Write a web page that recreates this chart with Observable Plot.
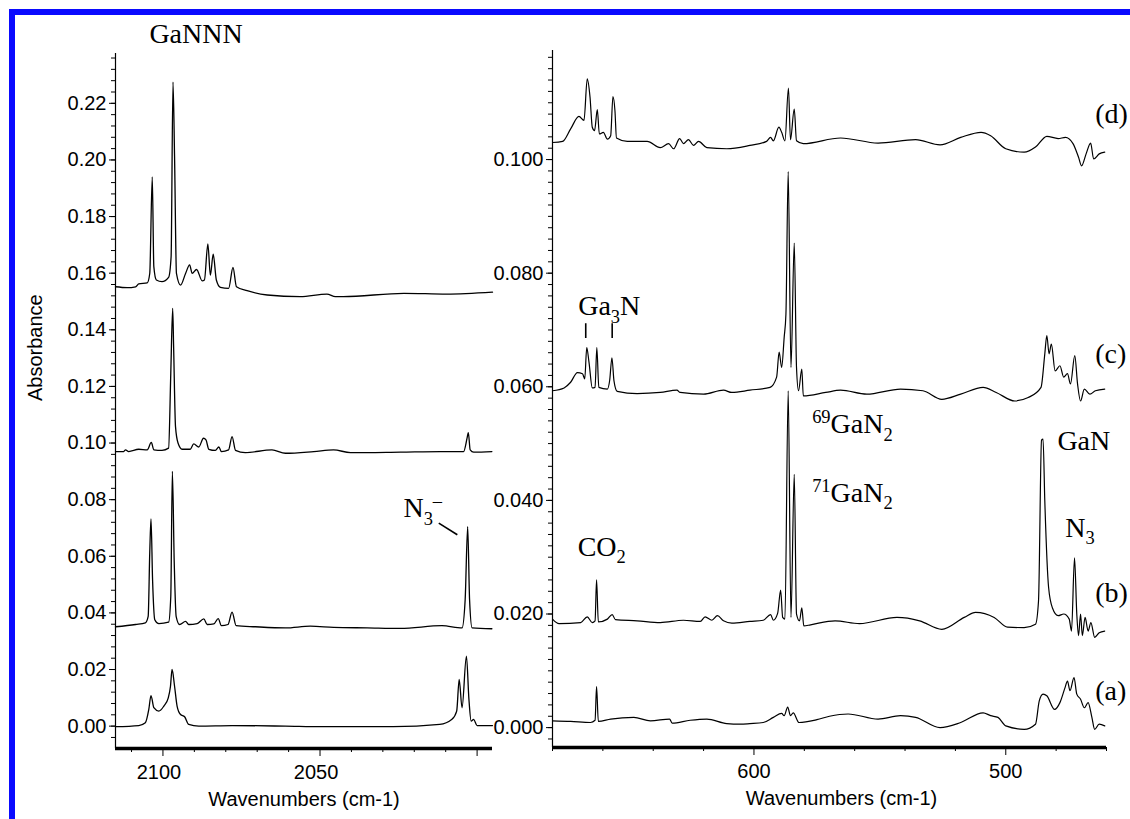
<!DOCTYPE html>
<html><head><meta charset="utf-8">
<script src="https://cdn.jsdelivr.net/npm/d3@7"></script>
<script src="https://cdn.jsdelivr.net/npm/@observablehq/plot@0.6"></script>
<style>
body{margin:0;background:#fff;}
#wrap{position:relative;width:1130px;height:819px;background:#fff;overflow:hidden;}
#wrap svg{position:absolute;left:0;top:0;}
.bb{position:absolute;background:#0a0aff;}
</style></head>
<body><div id="wrap"><div class="bb" style="left:9px;top:9px;width:1121px;height:6px"></div><div class="bb" style="left:9px;top:9px;width:6px;height:810px"></div></div>
<script>
// ---------- DATA: left panel (GaNNN region), [wavenumber, absorbance] ----------
const gannnA = [[2115.1,-0.0002],[2107.7,0.0002],[2105.6,0.0012],[2104.5,0.0059],[2103.8,0.0108],[2102.9,0.0065],[2101.3,0.0053],[2099.7,0.0071],[2098.3,0.0100],[2097.6,0.0141],[2097.1,0.0200],[2096.3,0.0141],[2095.5,0.0071],[2094.4,0.0041],[2093.1,0.0033],[2091.8,0.0006],[2088.6,0.0000],[2078.0,0.0002],[2061.0,0.0000],[2049.4,-0.0002],[2026.7,-0.0002],[2011.9,0.0006],[2008.0,0.0024],[2006.5,0.0053],[2005.7,0.0165],[2004.8,0.0065],[2003.4,0.0247],[2002.6,0.0094],[2001.9,0.0018],[2001.1,0.0024],[2000.0,0.0002],[1995.1,0.0002]];
const gannnB = [[2115.1,0.0351],[2108.7,0.0359],[2105.6,0.0365],[2104.7,0.0388],[2104.2,0.0612],[2103.8,0.0732],[2103.3,0.0517],[2102.6,0.0376],[2101.3,0.0362],[2098.2,0.0367],[2097.5,0.0459],[2097.0,0.0900],[2096.4,0.0576],[2095.8,0.0388],[2094.7,0.0359],[2092.8,0.0370],[2091.8,0.0359],[2089.1,0.0362],[2087.0,0.0379],[2085.9,0.0359],[2083.8,0.0361],[2082.4,0.0380],[2081.4,0.0355],[2079.3,0.0359],[2078.0,0.0403],[2076.7,0.0355],[2070.6,0.0351],[2061.0,0.0347],[2053.1,0.0353],[2045.7,0.0349],[2035.0,0.0347],[2024.4,0.0345],[2011.2,0.0355],[2004.8,0.0347],[2003.8,0.0447],[2003.0,0.0705],[2002.4,0.0447],[2001.6,0.0347],[1995.3,0.0344]];
const gannnC = [[2115.1,0.0970],[2112.5,0.0970],[2111.9,0.0976],[2110.9,0.0970],[2107.7,0.0978],[2105.0,0.0976],[2103.7,0.1002],[2102.9,0.0976],[2100.3,0.0974],[2098.2,0.0982],[2097.5,0.1247],[2096.9,0.1476],[2096.6,0.1340],[2096.0,0.1058],[2095.2,0.1000],[2093.9,0.0978],[2091.3,0.0978],[2090.2,0.0997],[2088.6,0.0986],[2087.1,0.1017],[2086.3,0.1011],[2085.4,0.0978],[2083.3,0.0974],[2082.2,0.0986],[2081.4,0.0970],[2079.1,0.0976],[2078.0,0.1023],[2076.9,0.0974],[2073.8,0.0966],[2065.3,0.0976],[2061.0,0.0964],[2052.0,0.0970],[2045.7,0.0976],[2040.3,0.0966],[2024.4,0.0968],[2011.7,0.0970],[2004.3,0.0970],[2003.2,0.1017],[2002.8,0.1037],[2002.2,0.0976],[2001.1,0.0968],[1995.3,0.0970]];
const gannnD = [[2115.1,0.1552],[2111.4,0.1549],[2108.7,0.1552],[2107.7,0.1562],[2105.0,0.1566],[2104.2,0.1599],[2103.4,0.1940],[2102.9,0.1623],[2102.1,0.1576],[2100.3,0.1570],[2098.2,0.1585],[2097.4,0.1658],[2096.8,0.2275],[2096.3,0.2011],[2095.7,0.1599],[2094.4,0.1558],[2092.8,0.1599],[2091.5,0.1629],[2090.7,0.1599],[2089.3,0.1613],[2087.5,0.1573],[2086.8,0.1576],[2085.7,0.1703],[2084.9,0.1593],[2084.0,0.1667],[2083.0,0.1576],[2081.7,0.1550],[2079.1,0.1546],[2077.7,0.1620],[2076.6,0.1552],[2073.2,0.1538],[2066.8,0.1523],[2056.3,0.1517],[2047.8,0.1526],[2045.1,0.1517],[2042.6,0.1517],[2023.3,0.1529],[2009.7,0.1526],[1995.1,0.1533]];

// ---------- DATA: right panel (700-460 cm-1 region) ----------
const farA = [[680,0.0012],[672.8,0.0011],[664.9,0.0009],[663.1,0.0013],[662.5,0.0072],[661.8,0.0011],[656.9,0.0015],[647.7,0.0018],[641.1,0.0012],[633.5,0.0015],[632.5,0.0008],[625.3,0.0013],[618.7,0.0015],[610.8,0.0007],[605.5,0.0006],[601.6,0.0007],[596.3,0.0009],[592.3,0.0018],[589.0,0.0025],[588.0,0.0021],[586.6,0.0036],[585.5,0.0021],[584.4,0.0026],[582.1,0.0009],[575.0,0.0014],[570.0,0.0020],[562.6,0.0024],[550.7,0.0015],[541.8,0.0021],[535.8,0.0018],[526.1,0.0000],[517.9,0.0009],[509.0,0.0026],[506.0,0.0021],[503.1,0.0018],[500.0,0.0003],[492.7,-0.0003],[488.2,0.0006],[486.7,0.0047],[485.2,0.0059],[483.7,0.0056],[480.6,0.0032],[478.5,0.0044],[476.5,0.0070],[475.5,0.0082],[474.5,0.0065],[472.9,0.0088],[471.8,0.0059],[470.3,0.0050],[468.8,0.0035],[467.3,0.0044],[465.8,0.0018],[464.7,-0.0003],[462.9,0.0006],[460.7,0.0003]];
const farB = [[680,0.0191],[677.4,0.0183],[668.8,0.0185],[666.2,0.0195],[664.2,0.0185],[663.1,0.0188],[662.5,0.0260],[661.8,0.0186],[658.2,0.0191],[656.3,0.0199],[655.0,0.0190],[646.4,0.0188],[637.2,0.0185],[628.0,0.0189],[621.3,0.0187],[619.4,0.0195],[616.7,0.0189],[614.5,0.0197],[612.1,0.0188],[608.8,0.0184],[601.6,0.0187],[596.3,0.0189],[593.4,0.0199],[592.3,0.0189],[590.6,0.0201],[589.4,0.0242],[588.6,0.0194],[587.7,0.0191],[586.4,0.0593],[585.3,0.0194],[584.0,0.0446],[583.1,0.0200],[581.9,0.0188],[581.0,0.0211],[580.2,0.0179],[577.5,0.0181],[567.8,0.0188],[558.1,0.0183],[543.2,0.0194],[534.2,0.0188],[525.4,0.0173],[516.5,0.0194],[512.0,0.0203],[504.6,0.0194],[499.3,0.0177],[492.7,0.0176],[488.2,0.0182],[487.0,0.0223],[485.8,0.0506],[485.2,0.0508],[484.5,0.0399],[483.0,0.0247],[481.5,0.0211],[479.2,0.0197],[477.0,0.0200],[474.8,0.0191],[473.9,0.0170],[472.7,0.0299],[471.8,0.0200],[471.1,0.0162],[470.3,0.0200],[469.6,0.0162],[468.5,0.0194],[467.3,0.0170],[466.2,0.0185],[464.7,0.0159],[462.9,0.0167],[460.7,0.0170]];
const farC = [[680,0.0593],[675.4,0.0598],[672.8,0.0608],[670.1,0.0625],[668.1,0.0623],[667.2,0.0614],[666.4,0.0669],[665.5,0.0643],[664.2,0.0598],[663.1,0.0599],[662.4,0.0669],[661.6,0.0599],[658.2,0.0596],[657.3,0.0611],[656.4,0.0651],[655.6,0.0611],[654.3,0.0592],[646.4,0.0588],[637.2,0.0590],[630.6,0.0594],[629.3,0.0590],[620.0,0.0587],[612.1,0.0594],[608.8,0.0590],[601.6,0.0594],[593.6,0.0599],[591.0,0.0617],[590.0,0.0661],[589.0,0.0634],[588.0,0.0687],[587.3,0.0728],[586.4,0.0979],[585.3,0.0634],[584.0,0.0853],[583.1,0.0634],[582.3,0.0593],[581.0,0.0631],[580.4,0.0584],[571.5,0.0590],[565.6,0.0594],[555.2,0.0587],[541.8,0.0596],[532.9,0.0593],[525.4,0.0578],[517.9,0.0587],[509.0,0.0599],[503.8,0.0590],[496.4,0.0575],[491.1,0.0581],[486.0,0.0599],[484.5,0.0658],[483.7,0.0690],[482.8,0.0658],[481.9,0.0675],[480.4,0.0628],[478.5,0.0637],[477.0,0.0617],[475.5,0.0623],[474.3,0.0605],[472.6,0.0655],[471.5,0.0605],[470.3,0.0575],[468.8,0.0596],[466.6,0.0587],[464.4,0.0593],[460.7,0.0596]];
const farD = [[680,0.1030],[676.0,0.1032],[672.8,0.1054],[669.5,0.1076],[667.5,0.1069],[666.2,0.1142],[665.1,0.1110],[664.2,0.1057],[663.3,0.1051],[662.2,0.1088],[661.4,0.1045],[659.8,0.1048],[658.2,0.1036],[656.9,0.1042],[656.0,0.1111],[655.2,0.1086],[654.6,0.1038],[650.3,0.1032],[642.4,0.1032],[637.2,0.1021],[633.9,0.1028],[631.9,0.1019],[629.5,0.1037],[628.0,0.1028],[626.0,0.1035],[624.0,0.1025],[622.0,0.1032],[618.7,0.1021],[610.8,0.1019],[601.6,0.1025],[595.0,0.1032],[593.4,0.1039],[592.3,0.1033],[590.1,0.1057],[589.0,0.1048],[587.7,0.1033],[586.3,0.1126],[585.5,0.1035],[584.0,0.1089],[583.1,0.1033],[580.4,0.1028],[565.6,0.1038],[550.7,0.1029],[535.8,0.1035],[526.1,0.1026],[517.9,0.1039],[509.8,0.1048],[506.0,0.1042],[500.0,0.1019],[492.7,0.1013],[488.2,0.1022],[483.7,0.1041],[479.2,0.1037],[476.3,0.1039],[473.3,0.1028],[471.1,0.1004],[469.9,0.0989],[468.1,0.1010],[466.3,0.1029],[465.1,0.1001],[462.9,0.1010],[460.7,0.1013]];

// ---------- ticks ----------
const leftYTicks = [0, 0.02, 0.04, 0.06, 0.08, 0.10, 0.12, 0.14, 0.16, 0.18, 0.20, 0.22];
const leftXTicks = [2100, 2050, 2000];
const leftXTickLabels = ["2100", "2050", ""];
const rightYTicks = [0, 0.02, 0.04, 0.06, 0.08, 0.10];
const rightXTicks = [600, 500];
const rightXTickLabels = ["600", "500"];
const leftYMinor = d3.range(-0.004, 0.2365, 0.004);
const rightYMinor = d3.range(-0.002, 0.1185, 0.002);
const leftXMinor = [2110, 2090, 2080, 2070, 2060, 2040, 2030, 2020, 2010];
const rightXMinor = [680, 660, 640, 620, 580, 560, 540, 520, 480, 460];

// ---------- annotations (text, anchor in data coords) ----------
const leftNotes = [
  {parts: ["GaNNN"], wn: 2089.3, abs: 0.2412, anchor: "middle", size: 28},
  {parts: ["N", ["3","sub"], ["\u2013","sup"]], wn: 2023.3, abs: 0.0736, anchor: "start", size: 28}
];
const leftLinks = [[2012.2, 0.0717, 2006.3, 0.0676]];
const rightNotes = [
  {parts: ["(d)"], wn: 464.3, abs: 0.1064},
  {parts: ["(c)"], wn: 464.3, abs: 0.0641},
  {parts: ["(b)"], wn: 464.3, abs: 0.0221},
  {parts: ["(a)"], wn: 464.3, abs: 0.0047},
  {parts: ["Ga", ["3","sub"], "N"], wn: 669.6, abs: 0.0725},
  {parts: [["69","sup"], "GaN", ["2","sub"]], wn: 576.7, abs: 0.0517},
  {parts: [["71","sup"], "GaN", ["2","sub"]], wn: 576.7, abs: 0.0396},
  {parts: ["CO", ["2","sub"]], wn: 669.8, abs: 0.0302},
  {parts: ["GaN"], wn: 479.3, abs: 0.0487},
  {parts: ["N", ["3","sub"]], wn: 476.2, abs: 0.0335}
];
const ga3nMarks = [[666.8, 0.0685, 0.0711], [656.3, 0.0685, 0.0711]];

// ---------- build ----------
const W = 1130, H = 819;
const serif = "'Liberation Serif','Times New Roman',Times,serif";
const sans = "'Liberation Sans',Arial,Helvetica,sans-serif";
const rows = (pairs, s) => pairs.map(([wn, abs]) => ({wn, abs, s}));

const leftRows = [...rows(gannnA,"a"), ...rows(gannnB,"b"), ...rows(gannnC,"c"), ...rows(gannnD,"d")];
const rightRows = [...rows(farA,"a"), ...rows(farB,"b"), ...rows(farC,"c"), ...rows(farD,"d")];

function axisMarks(o) {
  return [
    Plot.axisY({ticks: o.yMinor, tickSize: 4, tickFormat: () => "", label: null, strokeWidth: 1}),
    Plot.axisY({ticks: o.yTicks, tickSize: 6, tickPadding: 3, tickFormat: o.yFmt, label: null, strokeWidth: 1}),
    Plot.axisX({ticks: o.xMinor, tickSize: 4, tickFormat: () => "", label: null}),
    Plot.axisX({ticks: o.xTicks, tickSize: 8, tickFormat: () => "", label: null}),
    Plot.text(o.xTicks, {x: d => d, text: (d, i) => o.xLabels[i], frameAnchor: "bottom", lineAnchor: "top", dy: 16, dx: o.tickDx || 0, fontSize: 20, fill: "#000"}),
    Plot.ruleX([o.xDomain[0]], {stroke: "#000", strokeWidth: 1.2}),
    Plot.ruleY([o.yDomain[0]], {stroke: "#000", strokeWidth: 3.5}),
    Plot.text(["Wavenumbers (cm-1)"], {frameAnchor: "bottom", dy: 57, dx: o.labelDx || 0, fontSize: 20, fill: "#000"})
  ];
}

function addRich(svg, x, y, parts, size, anchor) {
  const t = d3.select(svg).append("text")
    .attr("x", x).attr("y", y).attr("text-anchor", anchor || "start")
    .attr("fill", "#000").style("font-family", serif).style("font-size", size + "px");
  let shift = 0;
  for (const p of parts) {
    const [s, kind] = Array.isArray(p) ? p : [p, null];
    const target = kind === "sub" ? size * 0.26 : kind === "sup" ? -size * 0.36 : 0;
    t.append("tspan").attr("dy", target - shift)
      .style("font-size", (kind ? size * 0.66 : size) + "px").text(s);
    shift = target;
  }
}

const lx = [2115.1, 1995.1], ly = [-0.0079, 0.2376];
const leftPlot = Plot.plot({
  width: W, height: H,
  marginLeft: 115, marginRight: W - 492, marginTop: 53, marginBottom: H - 748,
  style: {fontFamily: sans, fontSize: "20px", color: "#000", background: "transparent", overflow: "visible"},
  x: {domain: lx, axis: null},
  y: {domain: ly, axis: null},
  marks: [
    ...axisMarks({yMinor: leftYMinor, yTicks: leftYTicks, yFmt: d => d.toFixed(2), xMinor: leftXMinor, xTicks: leftXTicks, xLabels: leftXTickLabels, xDomain: lx, yDomain: ly, tickDx: -4}),
    Plot.text(["Absorbance"], {frameAnchor: "left", dx: -80, rotate: -90, fontSize: 20, fill: "#000"}),
    Plot.line(leftRows, {x: "wn", y: "abs", z: "s", stroke: "#000", strokeWidth: 1.3, curve: "monotone-x"}),
    Plot.link(leftLinks, {x1: d => d[0], y1: d => d[1], x2: d => d[2], y2: d => d[3], stroke: "#000", strokeWidth: 1.6})
  ]
});

const rx = [680, 460], ry = [-0.0035, 0.1192];
const rightPlot = Plot.plot({
  width: W, height: H,
  marginLeft: 552, marginRight: W - 1106, marginTop: 50, marginBottom: H - 747,
  style: {fontFamily: sans, fontSize: "20px", color: "#000", background: "transparent", overflow: "visible"},
  x: {domain: rx, axis: null},
  y: {domain: ry, axis: null},
  marks: [
    ...axisMarks({yMinor: rightYMinor, yTicks: rightYTicks, yFmt: d => d.toFixed(3), xMinor: rightXMinor, xTicks: rightXTicks, xLabels: rightXTickLabels, xDomain: rx, yDomain: ry, labelDx: 12}),
    Plot.line(rightRows, {x: "wn", y: "abs", z: "s", stroke: "#000", strokeWidth: 1.2, curve: "monotone-x"}),
    Plot.ruleX(ga3nMarks, {x: d => d[0], y1: d => d[1], y2: d => d[2], stroke: "#000", strokeWidth: 1.6})
  ]
});

const wrap = document.getElementById("wrap");
wrap.appendChild(leftPlot);
wrap.appendChild(rightPlot);

const Lx = leftPlot.scale("x"), Ly = leftPlot.scale("y");
for (const n of leftNotes) addRich(leftPlot, Lx.apply(n.wn), Ly.apply(n.abs), n.parts, n.size, n.anchor);
const Rx = rightPlot.scale("x"), Ry = rightPlot.scale("y");
for (const n of rightNotes) addRich(rightPlot, Rx.apply(n.wn), Ry.apply(n.abs), n.parts, 28, "start");
</script></body></html>
